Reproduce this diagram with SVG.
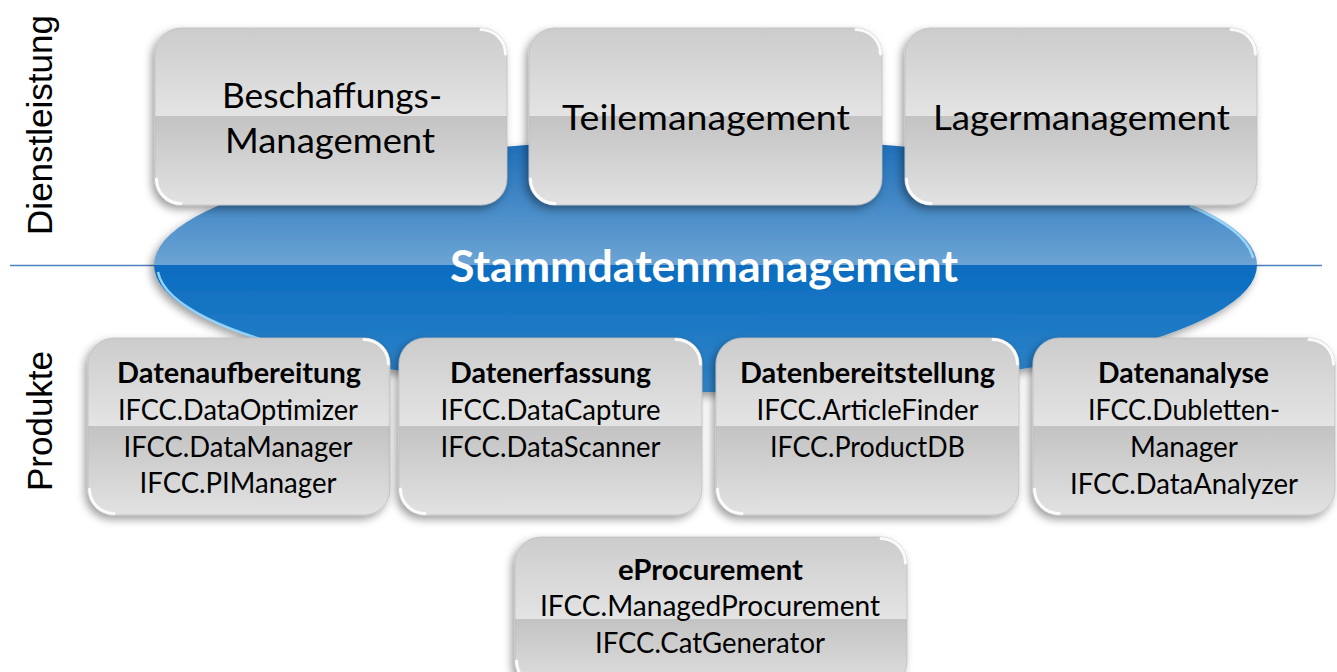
<svg xmlns="http://www.w3.org/2000/svg" width="1337" height="672" viewBox="0 0 1337 672">
<defs>
<linearGradient id="gBox" x1="0" y1="0" x2="0" y2="1">
<stop offset="0" stop-color="#cccccc"/>
<stop offset="0.5" stop-color="#e4e4e4"/>
<stop offset="0.5" stop-color="#c3c3c3"/>
<stop offset="1" stop-color="#e2e2e2"/>
</linearGradient>
<linearGradient id="gE" x1="0" y1="0" x2="0" y2="1">
<stop offset="0" stop-color="#cccccc"/>
<stop offset="0.55" stop-color="#e4e4e4"/>
<stop offset="0.55" stop-color="#c3c3c3"/>
<stop offset="1" stop-color="#e0e0e0"/>
</linearGradient>
<linearGradient id="gEll" x1="0" y1="0" x2="0" y2="1">
<stop offset="0" stop-color="#1a6cb8"/>
<stop offset="0.5" stop-color="#6ca4d4"/>
<stop offset="0.5" stop-color="#096cc0"/>
<stop offset="1" stop-color="#3386c9"/>
</linearGradient>
<filter id="sh" x="-10%" y="-10%" width="120%" height="130%">
<feDropShadow dx="-3" dy="4" stdDeviation="4.5" flood-color="#000" flood-opacity="0.38"/>
</filter>
</defs>
<style>
.box{fill:url(#gBox);stroke:#bdbdbd;stroke-width:0.8;filter:url(#sh)}
.hl{fill:none;stroke:#fff;stroke-width:3;stroke-linecap:round;opacity:0.9}
.big{font-family:Lato,"Open Sans",sans-serif;font-size:34px;fill:#000;text-anchor:middle}
.t{font-family:Lato,"Open Sans",sans-serif;font-size:28px;fill:#000;text-anchor:middle}
.tb{font-family:Lato,"Open Sans",sans-serif;font-size:28px;font-weight:bold;fill:#000;text-anchor:middle}
.side{font-family:"Liberation Sans",Arial,sans-serif;font-size:35px;fill:#000;text-anchor:middle}
</style>

<g id="divider">
<line x1="10" y1="265.5" x2="1322" y2="265.5" stroke="#4f81bd" stroke-width="1.5"/>
</g>

<g id="labels">
<text class="side" transform="translate(52,125) rotate(-90)">Dienstleistung</text>
<text class="side" transform="translate(52,421) rotate(-90)">Produkte</text>
</g>

<g id="stammdaten">
<ellipse cx="705.5" cy="265" rx="551.5" ry="127" fill="url(#gEll)" filter="url(#sh)"/>
<path d="M 158 272 A 548 124 0 0 0 330 357" fill="none" stroke="#9fdcff" stroke-width="2.5" opacity="0.9"/>
<path d="M 1190 206 A 548 124 0 0 1 1253 258" fill="none" stroke="#9fdcff" stroke-width="2.5" opacity="0.9"/>
<text x="704" y="282" font-family="Lato,'Open Sans',sans-serif" font-size="43" font-weight="bold" fill="#fff" text-anchor="middle" textLength="508" lengthAdjust="spacingAndGlyphs">Stammdatenmanagement</text>
</g>

<g id="beschaffung">
<rect class="box" x="155" y="28" width="352" height="177" rx="26"/>
<path class="hl" d="M 481 29.5 A 24.5 24.5 0 0 1 505.5 54"/>
<path class="hl" d="M 156.5 179 A 24.5 24.5 0 0 0 181 203.5"/>
<text class="big" x="332" y="108" textLength="220" lengthAdjust="spacingAndGlyphs">Beschaffungs-</text>
<text class="big" x="330" y="153" textLength="210" lengthAdjust="spacingAndGlyphs">Management</text>
</g>

<g id="teilemanagement">
<rect class="box" x="529" y="28" width="353" height="177" rx="26"/>
<path class="hl" d="M 856 29.5 A 24.5 24.5 0 0 1 880.5 54"/>
<path class="hl" d="M 530.5 179 A 24.5 24.5 0 0 0 555 203.5"/>
<text class="big" x="706" y="130" textLength="288" lengthAdjust="spacingAndGlyphs">Teilemanagement</text>
</g>

<g id="lagermanagement">
<rect class="box" x="905" y="28" width="352" height="177" rx="26"/>
<path class="hl" d="M 1231 29.5 A 24.5 24.5 0 0 1 1255.5 54"/>
<path class="hl" d="M 906.5 179 A 24.5 24.5 0 0 0 931 203.5"/>
<text class="big" x="1081.5" y="130" textLength="297" lengthAdjust="spacingAndGlyphs">Lagermanagement</text>
</g>

<g id="datenaufbereitung">
<rect class="box" x="88" y="338" width="302" height="177" rx="26"/>
<path class="hl" d="M 364 339.5 A 24.5 24.5 0 0 1 388.5 364"/>
<path class="hl" d="M 89.5 489 A 24.5 24.5 0 0 0 114 513.5"/>
<text class="tb" x="239" y="383" textLength="244" lengthAdjust="spacingAndGlyphs">Datenaufbereitung</text>
<text class="t" x="238" y="420" textLength="240" lengthAdjust="spacingAndGlyphs">IFCC.DataOptimizer</text>
<text class="t" x="238" y="457" textLength="229" lengthAdjust="spacingAndGlyphs">IFCC.DataManager</text>
<text class="t" x="238" y="493" textLength="197" lengthAdjust="spacingAndGlyphs">IFCC.PIManager</text>
</g>

<g id="datenerfassung">
<rect class="box" x="399" y="338" width="303" height="177" rx="26"/>
<path class="hl" d="M 676 339.5 A 24.5 24.5 0 0 1 700.5 364"/>
<path class="hl" d="M 400.5 489 A 24.5 24.5 0 0 0 425 513.5"/>
<text class="tb" x="550.5" y="383" textLength="201" lengthAdjust="spacingAndGlyphs">Datenerfassung</text>
<text class="t" x="550.5" y="420" textLength="220" lengthAdjust="spacingAndGlyphs">IFCC.DataCapture</text>
<text class="t" x="550.5" y="457" textLength="220" lengthAdjust="spacingAndGlyphs">IFCC.DataScanner</text>
</g>

<g id="datenbereitstellung">
<rect class="box" x="716" y="338" width="303" height="177" rx="26"/>
<path class="hl" d="M 993 339.5 A 24.5 24.5 0 0 1 1017.5 364"/>
<path class="hl" d="M 717.5 489 A 24.5 24.5 0 0 0 742 513.5"/>
<text class="tb" x="867.5" y="383" textLength="255" lengthAdjust="spacingAndGlyphs">Datenbereitstellung</text>
<text class="t" x="867.5" y="420" textLength="222" lengthAdjust="spacingAndGlyphs">IFCC.ArticleFinder</text>
<text class="t" x="867.5" y="457" textLength="195" lengthAdjust="spacingAndGlyphs">IFCC.ProductDB</text>
</g>

<g id="datenanalyse">
<rect class="box" x="1033" y="338" width="302" height="177" rx="26"/>
<path class="hl" d="M 1309 339.5 A 24.5 24.5 0 0 1 1333.5 364"/>
<path class="hl" d="M 1034.5 489 A 24.5 24.5 0 0 0 1059 513.5"/>
<text class="tb" x="1183.5" y="383" textLength="171" lengthAdjust="spacingAndGlyphs">Datenanalyse</text>
<text class="t" x="1184" y="420" textLength="192" lengthAdjust="spacingAndGlyphs">IFCC.Dubletten-</text>
<text class="t" x="1184" y="457" textLength="108" lengthAdjust="spacingAndGlyphs">Manager</text>
<text class="t" x="1184" y="494" textLength="228" lengthAdjust="spacingAndGlyphs">IFCC.DataAnalyzer</text>
</g>

<g id="eprocurement">
<rect class="box" x="515" y="537" width="392" height="150" rx="26" style="fill:url(#gE)"/>
<path class="hl" d="M 881 538.5 A 24.5 24.5 0 0 1 905.5 563"/>
<path class="hl" d="M 516.5 661 A 24.5 24.5 0 0 0 541 685.5"/>
<text class="tb" x="710.5" y="580" textLength="185" lengthAdjust="spacingAndGlyphs">eProcurement</text>
<text class="t" x="710" y="616" textLength="340" lengthAdjust="spacingAndGlyphs">IFCC.ManagedProcurement</text>
<text class="t" x="710" y="653" textLength="230" lengthAdjust="spacingAndGlyphs">IFCC.CatGenerator</text>
</g>
</svg>
